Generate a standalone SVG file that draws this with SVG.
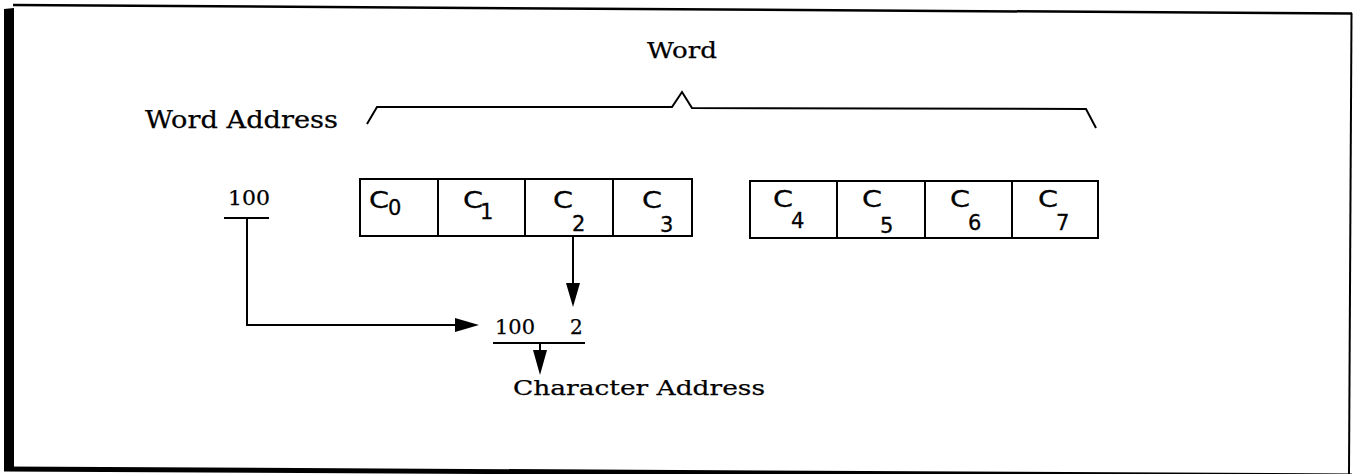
<svg xmlns="http://www.w3.org/2000/svg" width="1353" height="474" viewBox="0 0 1353 474">
  <style>
    .lbl { font-family: "DejaVu Serif", "Liberation Serif", serif; fill: #000; stroke: #000; stroke-width: 0.25; }
    .cell { fill: #fff; stroke: #000; stroke-width: 2; }
    .ch { font-family: "DejaVu Sans", "Noto Sans", sans-serif; font-size: 23px; fill: #000; stroke: #000; stroke-width: 0.3; }
    .sub { font-family: "DejaVu Sans", "Noto Sans", sans-serif; font-size: 21px; fill: #000; stroke: #000; stroke-width: 0.3; }
    .ln { fill: none; stroke: #000; stroke-width: 2; }
    .head { fill: #000; stroke: none; }
  </style>
  <rect x="0" y="0" width="1353" height="474" fill="#fff"/>

  <!-- frame -->
  <g id="frame">
    <polygon points="4,9 14,8 14,469 4,470" fill="#000"/>
    <line x1="13" y1="5" x2="1352" y2="13.5" stroke="#000" stroke-width="2.5"/>
    <line x1="1351.5" y1="13" x2="1349" y2="474" stroke="#000" stroke-width="2"/>
    <line x1="4" y1="469" x2="1352" y2="476" stroke="#000" stroke-width="5"/>
  </g>

  <!-- word brace and titles -->
  <g id="word">
    <text class="lbl" x="647" y="58" font-size="23" textLength="70" lengthAdjust="spacingAndGlyphs">Word</text>
    <path class="ln" d="M367,124 L377,107 L672,107 L682,92 L692,108 L1086,109 L1096,128"/>
  </g>
  <g id="word-address">
    <text class="lbl" x="145" y="128" font-size="24" textLength="193" lengthAdjust="spacingAndGlyphs">Word Address</text>
  </g>

  <!-- address 100 -->
  <g id="addr">
    <text class="lbl" x="228" y="205" font-size="20" textLength="42" lengthAdjust="spacingAndGlyphs">100</text>
    <line class="ln" x1="224" y1="218" x2="269" y2="218"/>
  </g>

  <!-- characters 0..3 -->
  <g id="chars-low">
    <rect class="cell" x="360" y="179" width="78" height="57"/>
    <rect class="cell" x="438" y="179" width="87" height="57"/>
    <rect class="cell" x="525" y="179" width="88" height="57"/>
    <rect class="cell" x="613" y="179" width="79" height="57"/>
    <text class="ch" x="369" y="208" textLength="20" lengthAdjust="spacingAndGlyphs">C</text>
    <text class="sub" x="388" y="215">0</text>
    <text class="ch" x="463" y="208" textLength="20" lengthAdjust="spacingAndGlyphs">C</text>
    <text class="sub" x="480" y="219">1</text>
    <text class="ch" x="553" y="208" textLength="20" lengthAdjust="spacingAndGlyphs">C</text>
    <text class="sub" x="572" y="231">2</text>
    <text class="ch" x="642" y="208" textLength="20" lengthAdjust="spacingAndGlyphs">C</text>
    <text class="sub" x="660" y="232">3</text>
  </g>

  <!-- characters 4..7 -->
  <g id="chars-high">
    <rect class="cell" x="750" y="181" width="87" height="57"/>
    <rect class="cell" x="837" y="181" width="88" height="57"/>
    <rect class="cell" x="925" y="181" width="87" height="57"/>
    <rect class="cell" x="1012" y="181" width="86" height="57"/>
    <text class="ch" x="773" y="207" textLength="20" lengthAdjust="spacingAndGlyphs">C</text>
    <text class="sub" x="791" y="228">4</text>
    <text class="ch" x="862" y="207" textLength="20" lengthAdjust="spacingAndGlyphs">C</text>
    <text class="sub" x="880" y="233">5</text>
    <text class="ch" x="950" y="207" textLength="20" lengthAdjust="spacingAndGlyphs">C</text>
    <text class="sub" x="968" y="230">6</text>
    <text class="ch" x="1038" y="207" textLength="20" lengthAdjust="spacingAndGlyphs">C</text>
    <text class="sub" x="1056" y="230">7</text>
  </g>

  <!-- character address -->
  <g id="char-address">
    <text class="lbl" x="495" y="334" font-size="20" textLength="40" lengthAdjust="spacingAndGlyphs">100</text>
    <text class="lbl" x="570" y="334" font-size="20">2</text>
    <line class="ln" x1="493" y1="343" x2="585" y2="343"/>
    <text class="lbl" x="513" y="395" font-size="21" textLength="252" lengthAdjust="spacingAndGlyphs">Character Address</text>
  </g>

  <!-- connectors -->
  <g id="connectors">
    <polyline class="ln" points="247,218 247,325 458,325"/>
    <polygon class="head" points="455,318 479,325 455,332"/>
    <line class="ln" x1="573" y1="236" x2="573" y2="285"/>
    <polygon class="head" points="566,283 573,307 580,283"/>
    <line class="ln" x1="540" y1="343" x2="540" y2="351"/>
    <polygon class="head" points="533,350 540,375 547,350"/>
  </g>
</svg>
